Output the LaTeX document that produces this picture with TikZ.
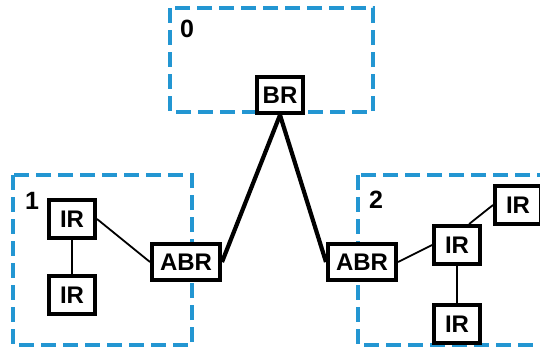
\documentclass[tikz,border=0pt]{standalone}
\usepackage{fontspec}
\setmainfont{Liberation Sans}
\usetikzlibrary{positioning}
\definecolor{areablue}{RGB}{35,150,210}
\tikzset{
    area/.style={draw=areablue, line width=1.8pt, dash pattern=on 7.5pt off 3.5pt},
    router/.style={draw, line width=2pt, fill=white, inner sep=0pt,
        font=\fontsize{12}{14}\selectfont\bfseries},
    irbox/.style={router, minimum width=23pt, minimum height=19pt},
    abrbox/.style={router, minimum width=34pt, minimum height=18pt},
    arealabel/.style={font=\fontsize{12.5}{14}\selectfont\bfseries, inner sep=0pt},
    backbone/.style={line width=2.1pt},
    link/.style={line width=0.9pt}
}
\begin{document}
\begin{tikzpicture}[x=0.5pt, y=-0.5pt]
    \useasboundingbox (0,0) rectangle (540,349);
    \begin{scope}
        \clip (0,0) rectangle (540,349);
        % areas
        \draw[area] (170,8) rectangle (373,112);
        \draw[area] (13,175) rectangle (192,345);
        \draw[area] (358,175) rectangle (560,345);
    \end{scope}
    \node[arealabel] (lab0) at (187,29) {0};
    \node[arealabel] (lab1) at (32,201) {1};
    \node[arealabel] (lab2) at (376,200) {2};

    % routers
    \node[router, minimum width=23pt, minimum height=18pt] (br) at (280,95) {BR};
    \node[abrbox] (abrA) at (186,262) {ABR};
    \node[abrbox] (abrB) at (362,262) {ABR};
    \node[irbox] (irA) at (72,219) {IR};
    \node[irbox] (irB) at (72,295) {IR};
    \node[irbox] (irC) at (457,245) {IR};
    \node[irbox] (irD) at (518,205) {IR};
    \node[irbox] (irE) at (457,324) {IR};

    % links
    \draw[backbone] (br.south) -- (abrA.east);
    \draw[backbone] (br.south) -- (abrB.west);
    \draw[link] (irA.east) -- (abrA.west);
    \draw[link] (irA.south) -- (irB.north);
    \draw[link] (abrB.east) -- (irC.west);
    \draw[link] (irC.60) -- (irD.west);
    \draw[link] (irC.south) -- (irE.north);
\end{tikzpicture}
\end{document}
